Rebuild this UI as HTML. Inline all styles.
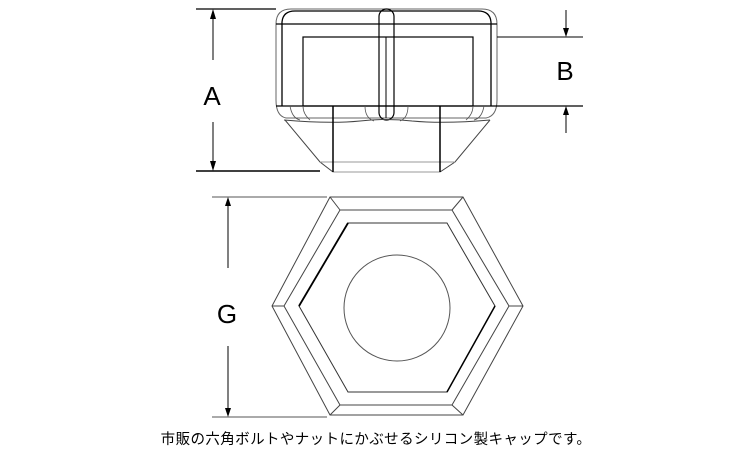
<!DOCTYPE html>
<html><head><meta charset="utf-8"><style>
html,body{margin:0;padding:0;background:#fff;width:750px;height:450px;overflow:hidden}
</style></head><body>
<svg width="750" height="450" viewBox="0 0 750 450" xmlns="http://www.w3.org/2000/svg">
<g fill="none" stroke="#000" stroke-width="1">
<path d="M276,24 Q276,9 291,9 L482,9 Q497,9 497,24 L497,100 Q497,116 486,118 L286,118 Q276,116 276,100 Z" stroke="#666"/>
<path d="M282,106 L282,22 Q283,11 295,11 L478,11 Q490,11 491,22 L491,106" stroke-width="1.3"/>
<line x1="276" y1="24" x2="497" y2="24" stroke-width="1.3"/>
<rect x="303" y="37" width="170" height="69" stroke-width="1.2"/>
<line x1="276" y1="106" x2="583" y2="106" stroke-width="1.2"/>
<line x1="497" y1="37" x2="583" y2="37"/>
<rect x="379" y="9" width="15" height="111" rx="7.5" stroke-width="1.2"/>
<line x1="386" y1="37" x2="386" y2="118"/>
<path d="M284,120 Q330,124 360,121 Q386,118 412,121 Q445,124 490,120" stroke="#444"/>
<path d="M290,106 Q292,118 300,120 M303,106 Q303,114 310,120 M473,106 Q473,114 466,120 M484,106 Q482,118 474,120 M365,106 Q365,118 374,121 M408,106 Q408,118 400,121" stroke="#555" stroke-width="0.8"/>
<path d="M285,120 L320,162 L333,172 M490,120 L455,162 L440,172" stroke="#444"/>
<line x1="320" y1="162" x2="455" y2="162" stroke="#999"/>
<line x1="333" y1="172" x2="440" y2="172" stroke="#999"/>
<line x1="333" y1="106" x2="333" y2="172" stroke-width="1.5"/>
<line x1="440" y1="106" x2="440" y2="172" stroke-width="1.5"/>
<line x1="196" y1="9" x2="276" y2="9" stroke-width="1.3"/>
<line x1="196" y1="171" x2="320" y2="171" stroke-width="1.5"/>
<line x1="213" y1="12" x2="213" y2="60"/>
<line x1="213" y1="122" x2="213" y2="168"/>
<line x1="566" y1="10" x2="566" y2="32"/>
<line x1="566" y1="112" x2="566" y2="133"/>
<path d="M330,197 L463,197 L523,306 L463,415 L330,415 L272,306 Z" stroke="#444"/>
<path d="M340,210 L452,210 L509,306 L452,405 L340,405 L284,306 Z" stroke="#444"/>
<path d="M348,223 L447,223 L495,306 L447,392 L348,392 L299,306 Z" stroke="#333"/>
<line x1="348" y1="223" x2="299" y2="306" stroke-width="1.8"/>
<line x1="447" y1="392" x2="495" y2="306" stroke-width="1.5"/>
<circle cx="397" cy="308" r="53" stroke="#555"/>
<path d="M330,197 L340,210 M463,197 L452,210 M523,306 L509,306 M463,415 L452,405 M330,415 L340,405 M272,306 L284,306" stroke="#444"/>
<line x1="212" y1="197" x2="327" y2="197" stroke="#555"/>
<line x1="212" y1="417" x2="327" y2="417" stroke="#555"/>
<line x1="228" y1="200" x2="228" y2="268"/>
<line x1="228" y1="346" x2="228" y2="413"/>
</g>
<g fill="#000">
<polygon points="213,9 210,19 216,19"/>
<polygon points="213,171 210,161 216,161"/>
<polygon points="566,37 563,28 569,28"/>
<polygon points="566,106 563,115 569,115"/>
<polygon points="228,197 225,206 231,206"/>
<polygon points="228,417 225,408 231,408"/>
</g>
<g font-family="Liberation Sans, sans-serif" font-size="26" fill="#000" text-anchor="middle">
<text x="212" y="105">A</text>
<text x="565" y="80">B</text>
<text x="227" y="323">G</text>
</g>
<text x="376" y="444" text-anchor="middle" font-family="Liberation Sans, Noto Sans CJK JP, sans-serif" font-size="14.5" letter-spacing="0.4" fill="#000">市販の六角ボルトやナットにかぶせるシリコン製キャップです。</text>
</svg>
</body></html>
